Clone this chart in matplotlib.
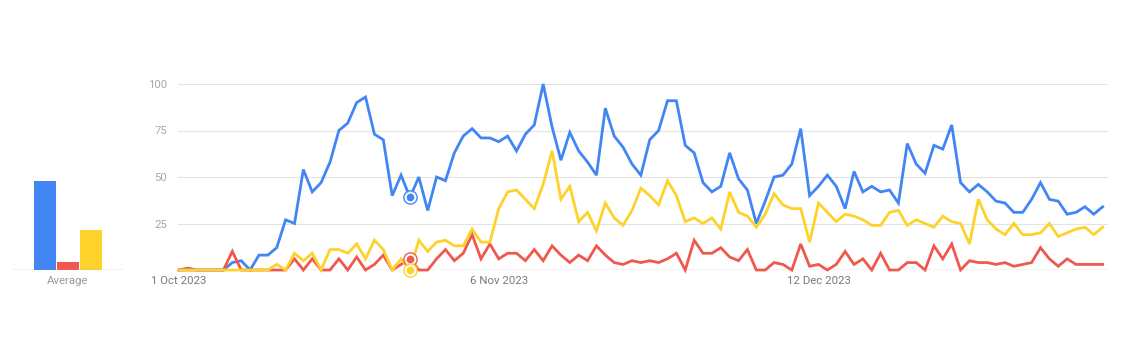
import matplotlib
matplotlib.use("Agg")
import matplotlib.pyplot as plt
import matplotlib.dates as mdates
import numpy as np
import pandas as pd

plt.rcParams['font.family'] = ['Roboto', 'DejaVu Sans']

start_date = "2023-10-01"
n_days = 105

blue = [0, 0, 0, 0, 0, 0, 4, 5, 0, 8, 8, 12, 27, 25, 54, 42, 47, 58, 75, 79,
        90, 93, 73, 70, 40, 51, 39, 50, 32, 50, 48, 63, 72, 76, 71, 71, 69, 72, 64, 73,
        78, 100, 77, 59, 74, 64, 58, 51, 87, 72, 66, 57, 51, 70, 75, 91, 91, 67, 63, 47,
        42, 45, 63, 49, 43, 25, 37, 50, 51, 57, 76, 40, 45, 51, 45, 33, 53, 42, 45, 42,
        43, 36, 68, 57, 52, 67, 65, 78, 47, 42, 46, 42, 37, 36, 31, 31, 38, 47, 38, 37,
        30, 31, 34, 30, 34]

red = [0, 1, 0, 0, 0, 0, 10, 0, 0, 0, 0, 0, 0, 6, 0, 6, 0, 0, 6, 0,
       7, 0, 3, 8, 0, 3, 6, 0, 0, 6, 11, 5, 9, 19, 6, 14, 6, 9, 9, 5,
       11, 5, 13, 8, 4, 8, 5, 13, 8, 4, 3, 5, 4, 5, 4, 6, 9, 0, 16, 9,
       9, 12, 7, 5, 11, 0, 0, 4, 3, 0, 14, 2, 3, 0, 3, 10, 3, 6, 0, 9,
       0, 0, 4, 4, 0, 13, 6, 14, 0, 5, 4, 4, 3, 4, 2, 3, 4, 12, 6, 2,
       6, 3, 3, 3, 3]

yellow = [0, 0, 0, 0, 0, 0, 0, 0, 0, 0, 0, 3, 0, 9, 5, 9, 0, 11, 11, 9,
          14, 6, 16, 11, 0, 6, 0, 16, 10, 15, 16, 13, 13, 22, 15, 15, 33, 42, 43, 38,
          33, 46, 64, 38, 45, 26, 31, 21, 36, 28, 24, 32, 44, 40, 35, 48, 40, 26, 28, 25,
          28, 22, 42, 31, 29, 23, 30, 41, 35, 33, 33, 15, 36, 31, 26, 30, 29, 27, 24, 24,
          31, 32, 24, 27, 25, 23, 29, 26, 25, 14, 38, 27, 22, 19, 25, 19, 19, 20, 25, 18,
          20, 22, 23, 19, 23]

averages = [48, 4.5, 21.5]
tick_dates = ["2023-10-01", "2023-11-06", "2023-12-12"]
tick_labels = ["1 Oct 2023", "6 Nov 2023", "12 Dec 2023"]
y_ticks = [25, 50, 75, 100]
hover_index = 26

colors = ["#4285F4", "#F0584D", "#FDD22B"]

dates = pd.date_range(start_date, periods=n_days, freq="D")

W, H = 1129, 353
fig = plt.figure(figsize=(W / 100, H / 100), dpi=100)

y0_px, y100_px = 270, 84
bottom = (H - y0_px) / H
height = (y0_px - y100_px) / H

# Main chart
left_px, right_px = 177.7, 1108
ax = fig.add_axes([left_px / W, bottom, (right_px - left_px) / W, height])
ax.set_ylim(0, 100)
d0 = mdates.date2num(dates[0])
ax.set_xlim(d0 - 0.15, d0 + (n_days - 1) + 0.6)

for yt in y_ticks:
    ax.axhline(yt, color="#e3e3e3", lw=0.8, zorder=0)
ax.axhline(0, color="#9e9e9e", lw=0.9, zorder=1)

for series, c, z in zip([blue, red, yellow], colors, [3, 4, 5]):
    ax.plot(dates, series, color=c, lw=2.0, zorder=z, clip_on=False,
            solid_joinstyle="miter")

for series, c, z in zip([blue, red, yellow], colors, [6, 7, 8]):
    ax.plot(dates[hover_index], series[hover_index], marker="o", ms=9.5,
            mfc="white", mec=c, mew=1.1, zorder=z, clip_on=False, alpha=0.9)
    ax.plot(dates[hover_index], series[hover_index], marker="o", ms=5.5,
            mfc=c, mec=c, mew=0, zorder=z, clip_on=False)

for s in ax.spines.values():
    s.set_visible(False)
ax.set_yticks(y_ticks)
ax.set_yticklabels([str(v) for v in y_ticks], color="#a8a8a8", fontsize=8.2)
ax.tick_params(axis="y", length=0, pad=7.5)
ax.set_xticks(pd.to_datetime(tick_dates))
ax.set_xticklabels(tick_labels, color="#7a7a7a", fontsize=8.2)
ax.tick_params(axis="x", length=0, pad=4.5)

# Average bars
bl_px, br_px = 12, 124
axb = fig.add_axes([bl_px / W, bottom, (br_px - bl_px) / W, height])
axb.set_ylim(0, 100)
unit = 23.0
axb.set_xlim(-(45 - bl_px) / unit, 2 + (br_px - 91) / unit)
axb.bar(range(3), averages, width=22 / unit, color=colors, zorder=2)
axb.axhline(0, color="#9e9e9e", lw=0.9, zorder=3)
for s in axb.spines.values():
    s.set_visible(False)
axb.set_yticks([])
axb.set_xticks([1])
axb.set_xticklabels(["Average"], color="#9a9a9a", fontsize=8.2)
axb.tick_params(axis="x", length=0, pad=4.5)

fig.savefig("out.png", dpi=100, facecolor="white")
